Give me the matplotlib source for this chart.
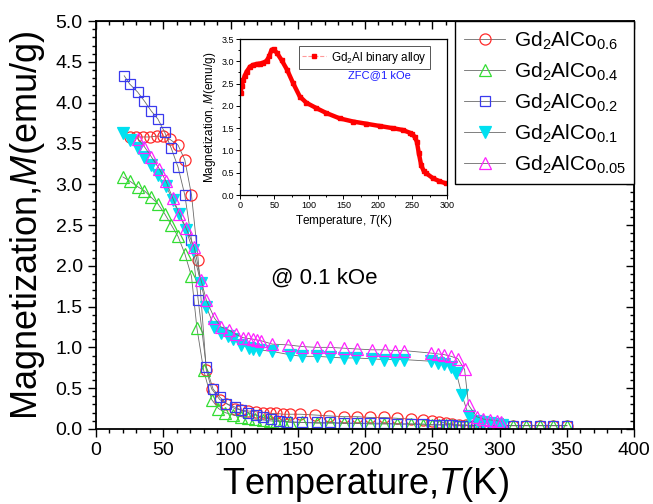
import matplotlib
matplotlib.use('Agg')
import matplotlib.pyplot as plt
from matplotlib.lines import Line2D
from matplotlib.ticker import MultipleLocator, FormatStrFormatter

plt.rcParams['font.family'] = 'Liberation Sans'
plt.rcParams['mathtext.fontset'] = 'custom'
plt.rcParams['mathtext.rm'] = 'Liberation Sans'
plt.rcParams['mathtext.it'] = 'Liberation Sans:italic'

# Gd2AlCo0.6
T_06 = [25, 30, 35, 40, 45, 50, 55, 61, 66, 71, 76, 82, 86, 92, 97, 103, 108, 113, 119, 124,
        129, 134, 139, 144, 152, 163, 173, 184, 194, 204, 214, 224, 234, 243, 250, 255, 260, 265,
        270, 275, 280, 285, 290, 295, 300, 310, 320, 330, 340, 350]
M_06 = [3.58, 3.58, 3.58, 3.58, 3.59, 3.59, 3.55, 3.48, 3.30, 2.87, 2.07, 0.72, 0.49, 0.36, 0.31,
        0.25, 0.23, 0.22, 0.21, 0.20, 0.19, 0.19, 0.18, 0.18, 0.18, 0.17, 0.16, 0.15, 0.15, 0.14,
        0.14, 0.13, 0.12, 0.11, 0.10, 0.09, 0.07, 0.06, 0.05, 0.05, 0.04, 0.04, 0.04, 0.04, 0.04,
        0.04, 0.04, 0.04, 0.04, 0.04]

# Gd2AlCo0.4
T_04 = [20, 25, 31, 36, 41, 46, 51, 56, 61, 66, 71, 75, 80, 86, 91, 96, 102, 108, 113, 118, 124,
        129, 134, 139, 144, 153, 164, 174, 184, 194, 204, 214, 224, 234, 243, 250, 255, 260, 265,
        270, 275, 280, 285, 290, 295, 300, 310, 320, 330, 340, 350]
M_04 = [3.09, 3.04, 2.97, 2.92, 2.84, 2.76, 2.64, 2.50, 2.36, 2.15, 1.87, 1.24, 0.72, 0.36, 0.25,
        0.20, 0.17, 0.15, 0.13, 0.12, 0.11, 0.10, 0.09, 0.09, 0.08, 0.08, 0.07, 0.07, 0.07, 0.07,
        0.06, 0.06, 0.06, 0.06, 0.05, 0.05, 0.05, 0.05, 0.05, 0.04, 0.04, 0.04, 0.04, 0.04, 0.04,
        0.04, 0.04, 0.04, 0.04, 0.04, 0.04]

# Gd2AlCo0.2
T_02 = [21, 25, 31, 36, 41, 46, 51, 56, 61, 66, 71, 76, 82, 87, 92, 97, 103, 108, 113, 119, 124,
        130, 136, 142, 153, 164, 174, 184, 194, 204, 214, 224, 234, 243, 250, 255, 260, 265, 270,
        275, 280, 285, 290, 295, 300, 310, 320, 330, 340, 350]
M_02 = [4.33, 4.23, 4.13, 4.02, 3.90, 3.80, 3.64, 3.44, 3.21, 2.87, 2.32, 1.58, 0.76, 0.49, 0.39,
        0.31, 0.27, 0.23, 0.20, 0.17, 0.14, 0.12, 0.10, 0.09, 0.08, 0.08, 0.08, 0.07, 0.07, 0.07,
        0.07, 0.06, 0.06, 0.06, 0.05, 0.05, 0.05, 0.05, 0.04, 0.04, 0.04, 0.04, 0.04, 0.04, 0.04,
        0.04, 0.04, 0.04, 0.04, 0.04]

# Gd2AlCo0.1
T_01 = [20, 25, 31, 36, 41, 46, 52, 57, 62, 67, 72, 78, 82, 88, 93, 98, 102, 108, 114, 117, 121,
        131, 144, 153, 164, 174, 184, 193, 205, 214, 222, 229, 249, 254, 259, 264, 268, 272, 277,
        283, 288, 293, 298, 302]
M_01 = [3.63, 3.54, 3.45, 3.34, 3.24, 3.11, 2.98, 2.81, 2.63, 2.44, 2.19, 1.79, 1.50, 1.25, 1.18,
        1.14, 1.10, 1.03, 0.99, 0.98, 0.97, 0.95, 0.91, 0.89, 0.89, 0.88, 0.87, 0.87, 0.86, 0.85,
        0.85, 0.85, 0.83, 0.81, 0.79, 0.76, 0.68, 0.42, 0.16, 0.10, 0.08, 0.07, 0.06, 0.05]

# Gd2AlCo0.05
T_005 = [31, 36, 41, 47, 52, 57, 62, 67, 73, 78, 82, 88, 93, 99, 104, 109, 113, 117, 120,
         123, 131, 143, 153, 164, 174, 184, 194, 205, 215, 222, 229, 249, 254, 259, 264, 269, 274,
         277, 283, 288, 293, 298, 301]
M_005 = [3.56, 3.46, 3.34, 3.19, 3.04, 2.83, 2.64, 2.46, 2.23, 1.83, 1.58, 1.36, 1.25,
         1.21, 1.16, 1.12, 1.11, 1.10, 1.09, 1.08, 1.04, 1.03, 1.01, 1.00, 1.00, 0.99, 0.98, 0.97,
         0.97, 0.96, 0.96, 0.93, 0.92, 0.91, 0.89, 0.86, 0.73, 0.29, 0.15, 0.12, 0.11, 0.10, 0.09]

# inset: Gd2Al binary alloy, ZFC @ 1 kOe
T_bin = [1, 2.4, 4.8, 7, 9.7, 14.5, 19, 24, 29, 33.7, 38.5, 42.3, 45.8, 49, 53.9, 60.2, 68.3, 77,
         86.7, 96.3, 110.8, 125.2, 144.5, 163.7, 183, 202.3, 221.5, 236, 245.7, 250, 253, 256.3,
         259.2, 262.6, 266, 269.8, 279.4, 289, 298.7]
M_bin = [2.29, 2.45, 2.58, 2.68, 2.77, 2.88, 2.92, 2.94, 2.95, 2.97, 3.01, 3.11, 3.26, 3.27, 3.18,
         3.03, 2.81, 2.51, 2.21, 2.07, 1.95, 1.84, 1.72, 1.65, 1.60, 1.55, 1.50, 1.46, 1.40, 1.36,
         1.31, 1.20, 0.94, 0.67, 0.55, 0.49, 0.38, 0.31, 0.26]

labels = ['Gd$_2$AlCo$_{0.6}$', 'Gd$_2$AlCo$_{0.4}$', 'Gd$_2$AlCo$_{0.2}$',
          'Gd$_2$AlCo$_{0.1}$', 'Gd$_2$AlCo$_{0.05}$']

fig = plt.figure(figsize=(6.53, 5.04), dpi=100)
ax = fig.add_axes([0.147, 0.149, 0.824, 0.809])

styles = [
    (T_06, M_06, 'o', '#ff2a2a', 'none', 8),
    (T_04, M_04, '^', '#33dd33', 'none', 8),
    (T_02, M_02, 's', '#3a3aee', 'none', 7.5),
    (T_01, M_01, 'v', '#00e0f0', '#00e0f0', 8.5),
    (T_005, M_005, '^', '#ff22ff', 'none', 8),
]
for (t, m, mk, c, fc, ms), lab in zip(styles, labels):
    ax.plot(t, m, color='#6a6a6a', lw=0.6, marker=mk, ms=ms, mec=c, mfc=fc, mew=0.9,
            label=lab)

ax.set_xlim(0, 400)
ax.set_ylim(0, 5)
ax.xaxis.set_major_locator(MultipleLocator(50))
ax.xaxis.set_minor_locator(MultipleLocator(10))
ax.yaxis.set_major_locator(MultipleLocator(0.5))
ax.yaxis.set_minor_locator(MultipleLocator(0.1))
ax.yaxis.set_major_formatter(FormatStrFormatter('%.1f'))
ax.tick_params(which='both', direction='out', labelsize=14, width=1)
ax.tick_params(which='major', length=6)
ax.tick_params(which='minor', length=3)
for sp in ax.spines.values():
    sp.set_linewidth(1.3)

top = ax.secondary_xaxis('top')
top.xaxis.set_major_locator(MultipleLocator(50))
top.xaxis.set_minor_locator(MultipleLocator(10))
top.tick_params(which='both', direction='in', labeltop=False, width=1)
top.tick_params(which='major', length=6)
top.tick_params(which='minor', length=3)
right = ax.secondary_yaxis('right')
right.yaxis.set_major_locator(MultipleLocator(0.5))
right.yaxis.set_minor_locator(MultipleLocator(0.1))
right.tick_params(which='both', direction='in', labelright=False, width=1)
right.tick_params(which='major', length=6)
right.tick_params(which='minor', length=3)

ax.set_xlabel('Temperature,$T$(K)', fontsize=26, labelpad=4)
ax.set_ylabel('Magnetization,$M$(emu/g)', fontsize=26, labelpad=6)

ax.text(170, 1.85, '@ 0.1 kOe', fontsize=16, ha='center', va='center')

leg = ax.legend(loc='upper right', bbox_to_anchor=(1, 1), borderaxespad=0, fontsize=15,
                fancybox=False, edgecolor='black', framealpha=1, handlelength=2.0,
                labelspacing=0.42, handletextpad=0.4, borderpad=0.4)
leg.get_frame().set_linewidth(1.0)

# inset
ax2 = fig.add_axes([0.3675, 0.613, 0.317, 0.3095])
ax2.plot(T_bin, M_bin, color='red', lw=3.2, marker='s', ms=3, mec='red', mfc='red')
ax2.set_xlim(0, 300)
ax2.set_ylim(0, 3.5)
ax2.xaxis.set_major_locator(MultipleLocator(50))
ax2.xaxis.set_minor_locator(MultipleLocator(25))
ax2.yaxis.set_major_locator(MultipleLocator(0.5))
ax2.yaxis.set_minor_locator(MultipleLocator(0.25))
ax2.yaxis.set_major_formatter(FormatStrFormatter('%.1f'))
ax2.tick_params(which='both', direction='out', labelsize=6.5, width=0.7, pad=1.5)
ax2.tick_params(which='major', length=3)
ax2.tick_params(which='minor', length=1.5)
for sp in ax2.spines.values():
    sp.set_linewidth(0.9)
ax2.set_xlabel('Temperature, $T$(K)', fontsize=8.5, labelpad=2)
ax2.set_ylabel('Magnetization, $M$(emu/g)', fontsize=8.5, labelpad=2)

proxy = Line2D([], [], color='#ff9999', ls='--', lw=0.8, marker='s', ms=3, mec='red', mfc='red')
leg2 = ax2.legend([proxy], ['Gd$_2$Al binary alloy'], loc='upper right',
                  bbox_to_anchor=(0.918, 0.955), borderaxespad=0, fontsize=8.5, fancybox=False,
                  edgecolor='#555555', framealpha=1, handlelength=2.0, handletextpad=0.4,
                  borderpad=0.3)
leg2.get_frame().set_linewidth(0.7)
ax2.text(0.676, 0.77, 'ZFC@1 kOe', transform=ax2.transAxes, fontsize=8, color='#1a1aff',
         ha='center', va='center')

fig.savefig('out.png', dpi=100)
